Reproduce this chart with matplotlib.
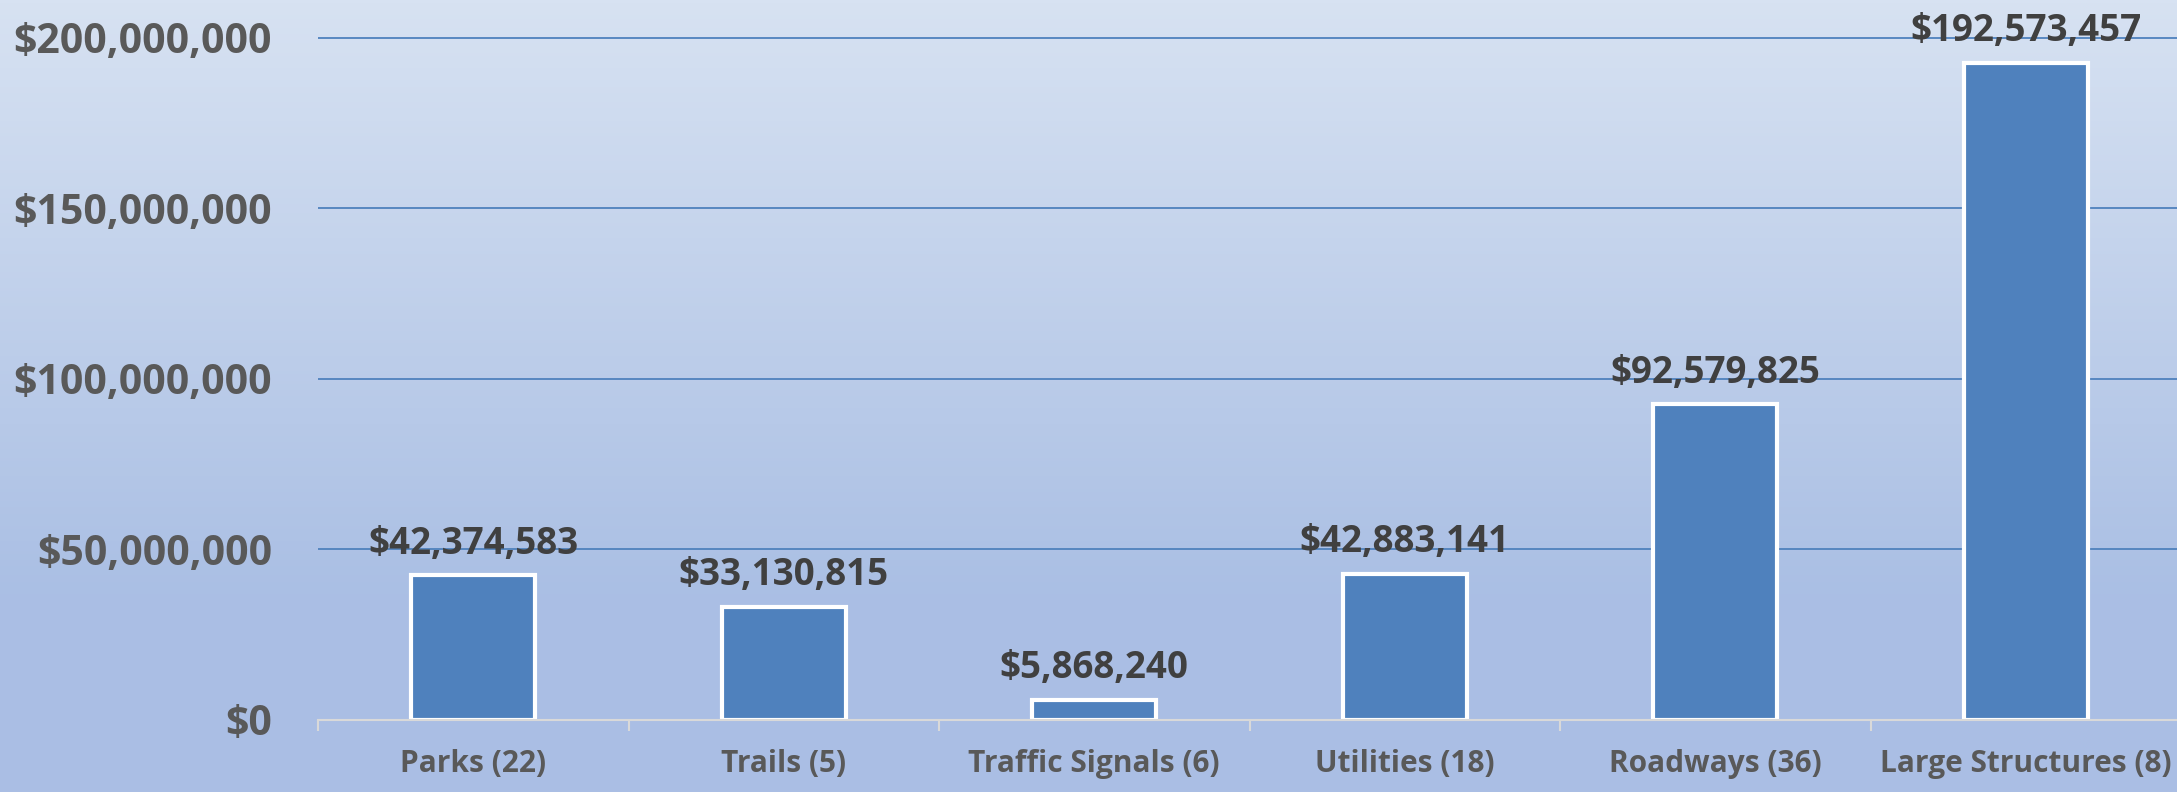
import numpy as np
import matplotlib.pyplot as plt
from matplotlib.colors import LinearSegmentedColormap

# data
categories = ["Parks (22)", "Trails (5)", "Traffic Signals (6)", "Utilities (18)",
              "Roadways (36)", "Large Structures (8)"]
totals = [42374583, 33130815, 5868240, 42883141, 92579825, 192573457]
y_ticks = [0, 50000000, 100000000, 150000000, 200000000]

plt.rcParams['font.family'] = ['Open Sans', 'DejaVu Sans']

W, H = 2177, 792
fig = plt.figure(figsize=(W / 100, H / 100), dpi=100)

# gradient background
bg = fig.add_axes([0, 0, 1, 1], zorder=-10)
cmap = LinearSegmentedColormap.from_list(
    "bg", [(0.0, "#d7e2f2"), (0.75, "#aabfe4"), (1.0, "#aabee4")])
grad = np.linspace(0, 1, 256).reshape(-1, 1)
bg.imshow(grad, aspect="auto", cmap=cmap, extent=[0, 1, 0, 1], origin="upper")
bg.axis("off")

# plot area (pixel positions converted to figure fractions)
left, right = 318 / W, 2181 / W
bottom, top = (H - 720) / H, 1.0
ax = fig.add_axes([left, bottom, right - left, top - bottom])
ax.patch.set_alpha(0)

x = np.arange(len(categories))
bars = ax.bar(x, totals, width=0.4, color="#4f81bd", edgecolor="white",
              linewidth=3, zorder=3)

ax.set_xlim(-0.5, len(categories) - 0.5)
ax.set_ylim(0, 211e6)

ax.set_yticks(y_ticks)
ax.set_yticklabels(["${:,.0f}".format(v) for v in y_ticks], fontsize=29.5,
                   fontweight="bold", color="#595959")
ax.tick_params(axis="y", length=0, pad=33)
ax.yaxis.grid(True, color="#4f81bd", linewidth=1.3, zorder=1)
ax.set_axisbelow(True)

# category labels, with ticks at the category boundaries
ax.set_xticks(x)
ax.set_xticklabels(categories, fontsize=21.5, fontweight="bold", color="#595959")
ax.tick_params(axis="x", length=0, pad=21)
ax.set_xticks(np.arange(-0.5, len(categories)), minor=True)
ax.tick_params(axis="x", which="minor", length=8, width=1.5, color="#d9d9d9")

for s in ["top", "right", "left"]:
    ax.spines[s].set_visible(False)
ax.spines["bottom"].set_color("#d9d9d9")
ax.spines["bottom"].set_linewidth(1.5)
ax.spines["bottom"].set_zorder(4)

for b, v in zip(bars, totals):
    ax.annotate("${:,.0f}".format(v), (b.get_x() + b.get_width() / 2, v),
                xytext=(0, 9), textcoords="offset points", ha="center",
                va="bottom", fontsize=26.5, fontweight="bold", color="#404040",
                zorder=5, annotation_clip=False)

fig.savefig("out.png", dpi=100)
